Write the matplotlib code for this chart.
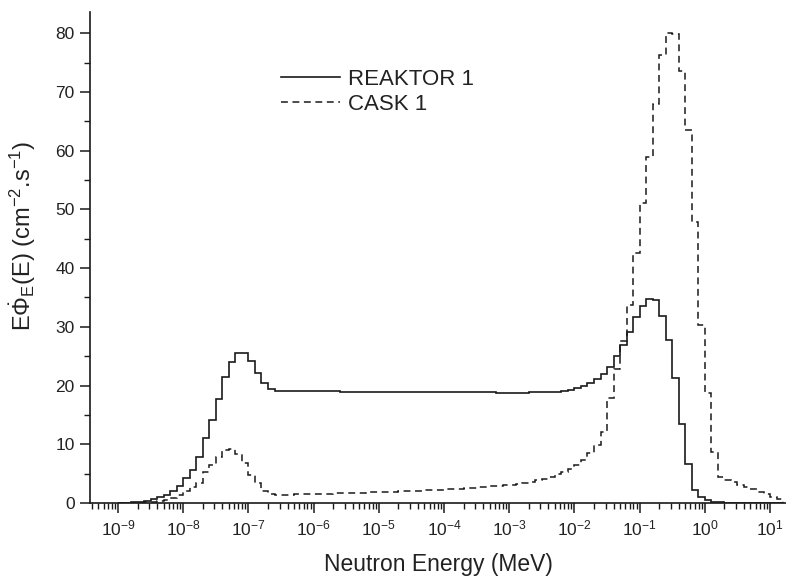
import numpy as np
import matplotlib
matplotlib.use("Agg")
import matplotlib.pyplot as plt
from matplotlib.ticker import FixedLocator, NullFormatter, MultipleLocator

plt.rcParams['font.family'] = ['Liberation Sans', 'DejaVu Sans']
plt.rcParams['mathtext.fontset'] = 'custom'
plt.rcParams['mathtext.rm'] = 'Liberation Sans'
plt.rcParams['mathtext.it'] = 'Liberation Sans'
plt.rcParams['mathtext.bf'] = 'Liberation Sans:bold'

# ---- data: 10 logarithmic bins per decade starting at 1e-9 MeV ----
first_decade = -9
bins_per_decade = 10

reaktor_1 = [
    0.04, 0.07, 0.12, 0.2, 0.35, 0.6, 0.95, 1.4, 2.0, 2.95,          # 1e-9 ..
    4.2, 5.6, 7.9, 11.1, 14.1, 17.7, 21.5, 24.0, 25.6, 25.5,        # 1e-8 ..
    24.1, 22.2, 20.5, 19.35, 19.1, 19.05, 19.05, 19.05, 19.0, 19.0, # 1e-7 ..
    19.0, 19.0, 19.0, 19.0, 18.98, 18.97, 18.97, 18.96, 18.95, 18.95,  # 1e-6
    18.94, 18.93, 18.93, 18.92, 18.91, 18.9, 18.9, 18.89, 18.88, 18.88,  # 1e-5
    18.87, 18.86, 18.85, 18.85, 18.84, 18.83, 18.82, 18.82, 18.81, 18.8,  # 1e-4
    18.8, 18.8, 18.8, 18.82, 18.85, 18.88, 18.92, 18.95, 19.05, 19.2,   # 1e-3
    19.5, 19.9, 20.4, 21.1, 21.9, 23.2, 25.1, 26.9, 29.2, 31.7,       # 1e-2
    33.6, 34.7, 34.55, 31.8, 27.7, 21.3, 13.4, 6.6, 2.2, 1.1,          # 1e-1
    0.5, 0.2, 0.1, 0.05, 0.02, 0.0, 0.0, 0.0, 0.0, 0.0,                # 1e0
    0.0, 0.0,                                                          # 1e1
]

cask_1 = [
    0.02, 0.03, 0.05, 0.08, 0.12, 0.2, 0.3, 0.5, 0.8, 1.3,
    2.1, 2.7, 3.4, 5.2, 6.5, 7.9, 9.0, 9.2, 8.3, 6.75,
    4.8, 3.35, 2.1, 1.5, 1.4, 1.4, 1.42, 1.45, 1.48, 1.5,
    1.53, 1.56, 1.6, 1.63, 1.67, 1.7, 1.73, 1.77, 1.8, 1.84,
    1.87, 1.9, 1.95, 2.0, 2.03, 2.07, 2.12, 2.16, 2.2, 2.25,
    2.3, 2.36, 2.42, 2.5, 2.58, 2.65, 2.73, 2.82, 2.9, 3.0,
    3.1, 3.25, 3.4, 3.6, 3.85, 4.1, 4.5, 4.9, 5.3, 5.8,
    6.5, 7.4, 8.5, 9.8, 12.1, 17.8, 22.9, 27.5, 33.7, 42.6,
    51.0, 58.9, 68.0, 76.3, 80.1, 79.9, 73.5, 63.5, 47.9, 30.3,
    18.7, 8.7, 4.5, 3.9, 3.5, 3.1, 2.7, 2.3, 1.9, 1.5,
    1.1, 0.7,
]

series_labels = ["REAKTOR 1", "CASK 1"]
x_tick_exponents = list(range(-9, 2))
y_ticks = [0, 10, 20, 30, 40, 50, 60, 70, 80]

n_bins = len(reaktor_1)
edges = 10.0 ** (first_decade + np.arange(n_bins + 1) / bins_per_decade)

# ---- figure ----
fig = plt.figure(figsize=(7.86, 5.82), dpi=100)
ax = fig.add_axes([90 / 786, 79 / 582, 696 / 786, 491 / 582])

lc = '#1a1a1a'
ax.stairs(reaktor_1, edges, color=lc, lw=1.2, label=series_labels[0])
ax.stairs(cask_1, edges, color=lc, lw=1.1, linestyle=(0, (4.5, 3.0)),
          label=series_labels[1])

ax.set_xscale('log')
ax.set_xlim(10 ** -9.43, 10 ** 1.245)
ax.set_ylim(0, 83.6)

for s in ['top', 'right']:
    ax.spines[s].set_visible(False)
for s in ['left', 'bottom']:
    ax.spines[s].set_linewidth(1.2)
    ax.spines[s].set_color(lc)

ax.xaxis.set_major_locator(FixedLocator([10.0 ** e for e in x_tick_exponents]))
ax.set_xticklabels([r'$\mathregular{10^{%d}}$' % e for e in x_tick_exponents])
minor = [m * 10.0 ** e for e in range(-10, 2) for m in range(2, 10)]
ax.xaxis.set_minor_locator(FixedLocator(minor))
ax.xaxis.set_minor_formatter(NullFormatter())

ax.set_yticks(y_ticks)
ax.yaxis.set_minor_locator(MultipleLocator(5))

ax.tick_params(which='major', direction='out', length=7, width=1.1, color=lc,
               labelsize=12.5, labelcolor='#222222', pad=4)
ax.tick_params(which='minor', direction='out', length=4, width=1.0, color=lc)

ax.set_xlabel('Neutron Energy (MeV)', fontsize=16.5, color='#222222', labelpad=11)
ax.set_ylabel(r'$\mathregular{E\dot{\Phi}_E(E)}$ (cm$^{\mathregular{-2}}$.s$^{\mathregular{-1}}$)',
              fontsize=17, color='#222222')
ax.yaxis.set_label_coords(-0.074, 0.545)

leg = ax.legend(loc='upper left', bbox_to_anchor=(0.262, 0.903), frameon=False,
                fontsize=16, handlelength=2.65, handletextpad=0.35,
                labelspacing=0.2, borderaxespad=0)
for t in leg.get_texts():
    t.set_color('#222222')

fig.savefig('out.png', dpi=100)
